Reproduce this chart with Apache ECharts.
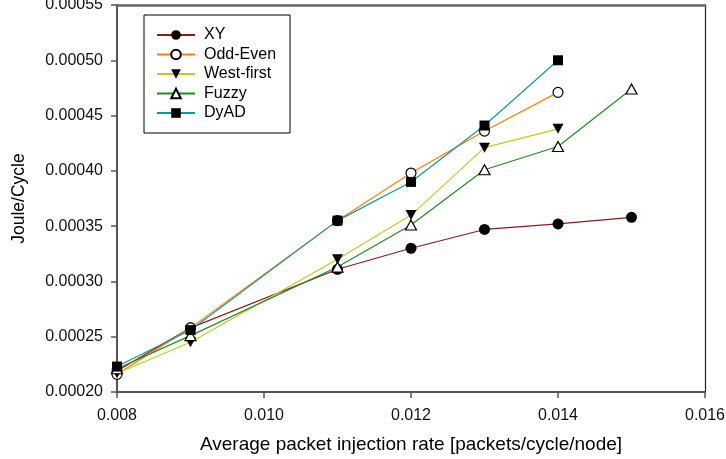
<!DOCTYPE html>
<html>
<head>
<meta charset="utf-8">
<script src="https://cdn.jsdelivr.net/npm/echarts@6/dist/echarts.min.js"></script>
<style>
  html, body { margin: 0; padding: 0; background: #fff; }
  #chart { width: 726px; height: 459px; }
</style>
</head>
<body>
<div id="chart"></div>
<script>
// Injection rates (packets/cycle/node)
const rates = [0.008, 0.009, 0.011, 0.012, 0.013, 0.014, 0.015];

// Energy per cycle (Joule/Cycle) for each routing algorithm
const xy        = [0.000219, 0.000258, 0.000311, 0.000330, 0.000347, 0.000352, 0.000358];
const oddEven   = [0.000216, 0.000258, 0.000355, 0.000398, 0.000436, 0.000471];
const westFirst = [0.000217, 0.000245, 0.000320, 0.000360, 0.000421, 0.000438];
const fuzzy     = [0.000221, 0.000251, 0.000313, 0.000351, 0.000401, 0.000422, 0.000474];
const dyad      = [0.000223, 0.000256, 0.000355, 0.000390, 0.000441, 0.000500];

const seriesNames = ['XY', 'Odd-Even', 'West-first', 'Fuzzy', 'DyAD'];

const xTicks = { min: 0.008, max: 0.016, step: 0.002 };
const yTicks = { min: 0.00020, max: 0.00055, step: 0.00005 };

const FONT = '"Liberation Sans", Arial, sans-serif';
const TRI_DOWN = 'path://M0,0 L10,0 L5,9 Z';
const TRI_UP = 'path://M5,0 L10,9 L0,9 Z';

function pairs(vals) {
  return vals.map((v, i) => [rates[i], v]);
}

function makeSeries(name, vals, lineColor, symbol, filled, size) {
  return {
    name: name,
    type: 'line',
    data: pairs(vals),
    symbol: symbol,
    symbolSize: size,
    showAllSymbol: true,
    lineStyle: { color: lineColor, width: 1.2 },
    itemStyle: filled
      ? { color: '#000', borderColor: '#000', borderWidth: 0 }
      : { color: '#fff', borderColor: '#000', borderWidth: 1.2 },
    emphasis: { disabled: true },
    animation: false
  };
}

const chart = echarts.init(document.getElementById('chart'), null, { renderer: 'canvas' });

chart.setOption({
  backgroundColor: '#fff',
  animation: false,
  textStyle: { fontFamily: FONT },
  grid: { left: 117, right: 21, top: 5, bottom: 67, containLabel: false, outerBoundsMode: 'none' },
  legend: {
    data: seriesNames,
    orient: 'vertical',
    left: 144,
    top: 15,
    padding: [12, 14, 12, 12],
    itemWidth: 38,
    itemHeight: 12,
    itemGap: 3.5,
    borderColor: '#000',
    borderWidth: 1,
    backgroundColor: '#fff',
    textStyle: { fontFamily: FONT, fontSize: 16, color: '#000', padding: [0, 0, 0, 4] },
    selectedMode: false
  },
  xAxis: [{
    type: 'value',
    position: 'bottom',
    min: xTicks.min,
    max: xTicks.max,
    interval: xTicks.step,
    name: 'Average packet injection rate [packets/cycle/node]',
    nameLocation: 'middle',
    nameGap: 43,
    nameTextStyle: { fontFamily: FONT, fontSize: 19, color: '#000' },
    axisLine: { show: true, lineStyle: { color: '#555', width: 2 } },
    axisTick: { show: true, inside: false, length: 6, lineStyle: { color: '#555', width: 1.5 } },
    axisLabel: {
      margin: 16, fontFamily: FONT, fontSize: 16, color: '#111',
      formatter: v => v.toFixed(3)
    },
    splitLine: { show: false }
  }, {
    type: 'value',
    position: 'top',
    min: xTicks.min,
    max: xTicks.max,
    axisLine: { show: true, lineStyle: { color: '#666', width: 2.5 } },
    axisTick: { show: false },
    axisLabel: { show: false },
    splitLine: { show: false }
  }],
  yAxis: [{
    type: 'value',
    position: 'left',
    min: yTicks.min,
    max: yTicks.max,
    interval: yTicks.step,
    name: 'Joule/Cycle',
    nameLocation: 'middle',
    nameGap: 89,
    nameRotate: 90,
    nameTextStyle: { fontFamily: FONT, fontSize: 17.5, color: '#000' },
    axisLine: { show: true, lineStyle: { color: '#555', width: 2 } },
    axisTick: { show: true, inside: false, length: 6, lineStyle: { color: '#555', width: 1.5 } },
    axisLabel: {
      margin: 14, fontFamily: FONT, fontSize: 16, color: '#111',
      formatter: v => v.toFixed(5)
    },
    splitLine: { show: false }
  }, {
    type: 'value',
    position: 'right',
    min: yTicks.min,
    max: yTicks.max,
    axisLine: { show: true, lineStyle: { color: '#222', width: 1.2 } },
    axisTick: { show: false },
    axisLabel: { show: false },
    splitLine: { show: false }
  }],
  series: [
    makeSeries('XY', xy, '#8b1a1a', 'circle', true, 11),
    makeSeries('Odd-Even', oddEven, '#ff8000', 'circle', false, 10),
    makeSeries('West-first', westFirst, '#c8c81e', TRI_DOWN, true, [11, 10]),
    makeSeries('Fuzzy', fuzzy, '#1e8c1e', TRI_UP, false, [11, 10]),
    makeSeries('DyAD', dyad, '#14969b', 'rect', true, 10)
  ]
});
</script>
</body>
</html>
